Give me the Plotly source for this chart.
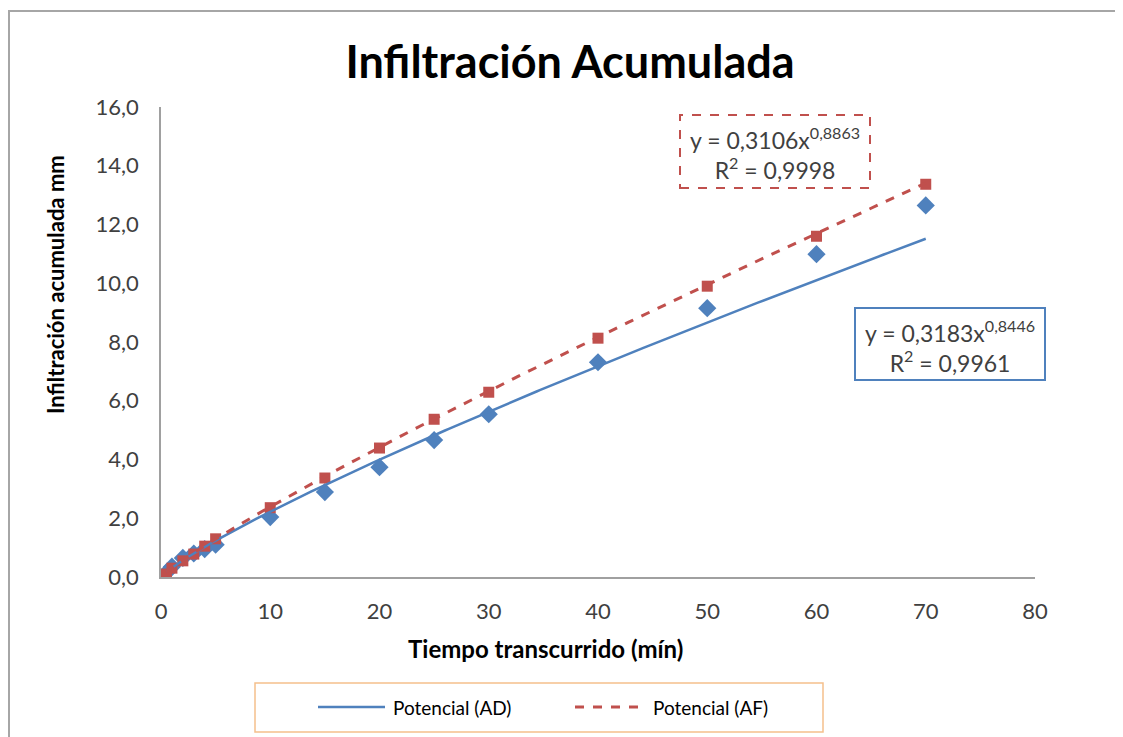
import plotly.graph_objects as go
import numpy as np

# datos
tiempo = [0.5, 1, 2, 3, 4, 5, 10, 15, 20, 25, 30, 40, 50, 60, 70]
infil_ad = [0.15, 0.35, 0.65, 0.80, 0.95, 1.10, 2.04, 2.89, 3.74, 4.66, 5.54, 7.31, 9.15, 10.99, 12.65]
infil_af = [0.10, 0.30, 0.55, 0.78, 1.05, 1.30, 2.36, 3.37, 4.39, 5.37, 6.29, 8.13, 9.90, 11.60, 13.37]

# coeficientes de las lineas de tendencia (potencial)
coef_ad, exp_ad, r2_ad = 0.3183, 0.8446, "0,9961"
coef_af, exp_af, r2_af = 0.3106, 0.8863, "0,9998"
nombres = ["Potencial (AD)", "Potencial (AF)"]

azul = "#4f81bd"
rojo = "#c0504d"
gris = "#404040"
fuente = "Lato"

# la pagina tiene 8px de margen, todo en pixeles de pagina
OFF = 8
L, R, T, B = 161, 1035, 107, 577
W, H = 1123 - OFF, 737 - OFF


def px(x):
    return (x - L) / (R - L)


def py(y):
    return (B - y) / (B - T)


xs = np.linspace(min(tiempo), max(tiempo), 200)

fig = go.Figure()

fig.add_trace(go.Scatter(x=tiempo, y=infil_ad, mode="markers", showlegend=False,
                         marker=dict(symbol="diamond", size=14, color=azul)))
fig.add_trace(go.Scatter(x=tiempo, y=infil_af, mode="markers", showlegend=False,
                         marker=dict(symbol="square", size=11, color=rojo)))
fig.add_trace(go.Scatter(x=xs, y=coef_ad * xs ** exp_ad, mode="lines", name=nombres[0],
                         showlegend=False, line=dict(color=azul, width=2.5)))
fig.add_trace(go.Scatter(x=xs, y=coef_af * xs ** exp_af, mode="lines", name=nombres[1],
                         showlegend=False, line=dict(color=rojo, width=3, dash="dash")))

# cajas de ecuaciones
fig.add_shape(type="rect", xref="paper", yref="paper",
              x0=px(680), x1=px(870), y0=py(188), y1=py(115),
              line=dict(color=rojo, width=2, dash="dash"), fillcolor="white")
fig.add_annotation(xref="paper", yref="paper", x=px(775), y=py(153), showarrow=False,
                   xanchor="center", yanchor="middle",
                   text="y = 0,3106x<sup>0,8863</sup><br>R<sup>2</sup> = " + r2_af,
                   font=dict(family=fuente, size=23, color=gris), align="center")
fig.add_shape(type="rect", xref="paper", yref="paper",
              x0=px(855), x1=px(1045), y0=py(380), y1=py(308),
              line=dict(color=azul, width=2), fillcolor="white")
fig.add_annotation(xref="paper", yref="paper", x=px(950), y=py(346), showarrow=False,
                   xanchor="center", yanchor="middle",
                   text="y = 0,3183x<sup>0,8446</sup><br>R<sup>2</sup> = " + r2_ad,
                   font=dict(family=fuente, size=23, color=gris), align="center")

# marco del grafico y de la leyenda
fig.add_shape(type="rect", xref="paper", yref="paper",
              x0=px(9), x1=px(1140), y0=py(750), y1=py(11),
              line=dict(color="#a6a6a6", width=2), fillcolor="rgba(0,0,0,0)")
fig.add_shape(type="rect", xref="paper", yref="paper",
              x0=px(255), x1=px(823), y0=py(732), y1=py(683),
              line=dict(color="#f5c08c", width=1.5), fillcolor="rgba(0,0,0,0)")

# leyenda
leyenda = [(318, 385, 391, azul, "solid", 2.5), (575, 643, 651, rojo, "dash", 3)]
for nombre, (x0, x1, xt, color, estilo, ancho) in zip(nombres, leyenda):
    fig.add_shape(type="line", xref="paper", yref="paper",
                  x0=px(x0), x1=px(x1), y0=py(707), y1=py(707),
                  line=dict(color=color, width=ancho, dash=estilo))
    fig.add_annotation(xref="paper", yref="paper", x=px(xt), y=py(707), showarrow=False,
                       xanchor="left", yanchor="middle", text=nombre,
                       font=dict(family=fuente, size=19, color="black"))

# titulos de ejes
fig.add_annotation(xref="paper", yref="paper", x=px(545), y=py(648), showarrow=False,
                   xanchor="center", yanchor="middle",
                   text="<b>Tiempo transcurrido (mín)</b>",
                   font=dict(family=fuente, size=24, color="black"))
fig.add_annotation(xref="paper", yref="paper", x=px(55), y=py(285), showarrow=False,
                   xanchor="center", yanchor="middle",
                   text="<b>Infiltración acumulada mm</b>", textangle=-90,
                   font=dict(family=fuente, size=22, color="black"))

fig.update_layout(
    width=W, height=H,
    margin=dict(l=L - OFF, r=W - (R - OFF), t=T - OFF, b=H - (B - OFF)),
    paper_bgcolor="white", plot_bgcolor="white",
    separators=",.",
    showlegend=False,
    title=dict(text="<b>Infiltración Acumulada</b>", xref="container", yref="container",
               x=(570 - OFF) / W, y=1 - (62 - OFF) / H, xanchor="center", yanchor="middle",
               font=dict(family=fuente, size=45, color="black")),
)

fig.update_xaxes(range=[0, 80], dtick=10, showgrid=False, zeroline=False,
                 showline=True, linecolor="#a0a0a0", linewidth=1.5,
                 ticks="", ticklabelstandoff=14,
                 tickfont=dict(family=fuente, size=22, color=gris))
fig.update_yaxes(range=[0, 16], dtick=2, tickformat=".1f", showgrid=False, zeroline=False,
                 showline=True, linecolor="#a0a0a0", linewidth=1.5,
                 ticks="", ticklabelstandoff=16,
                 tickfont=dict(family=fuente, size=22, color=gris))

fig.write_html("out.html")
